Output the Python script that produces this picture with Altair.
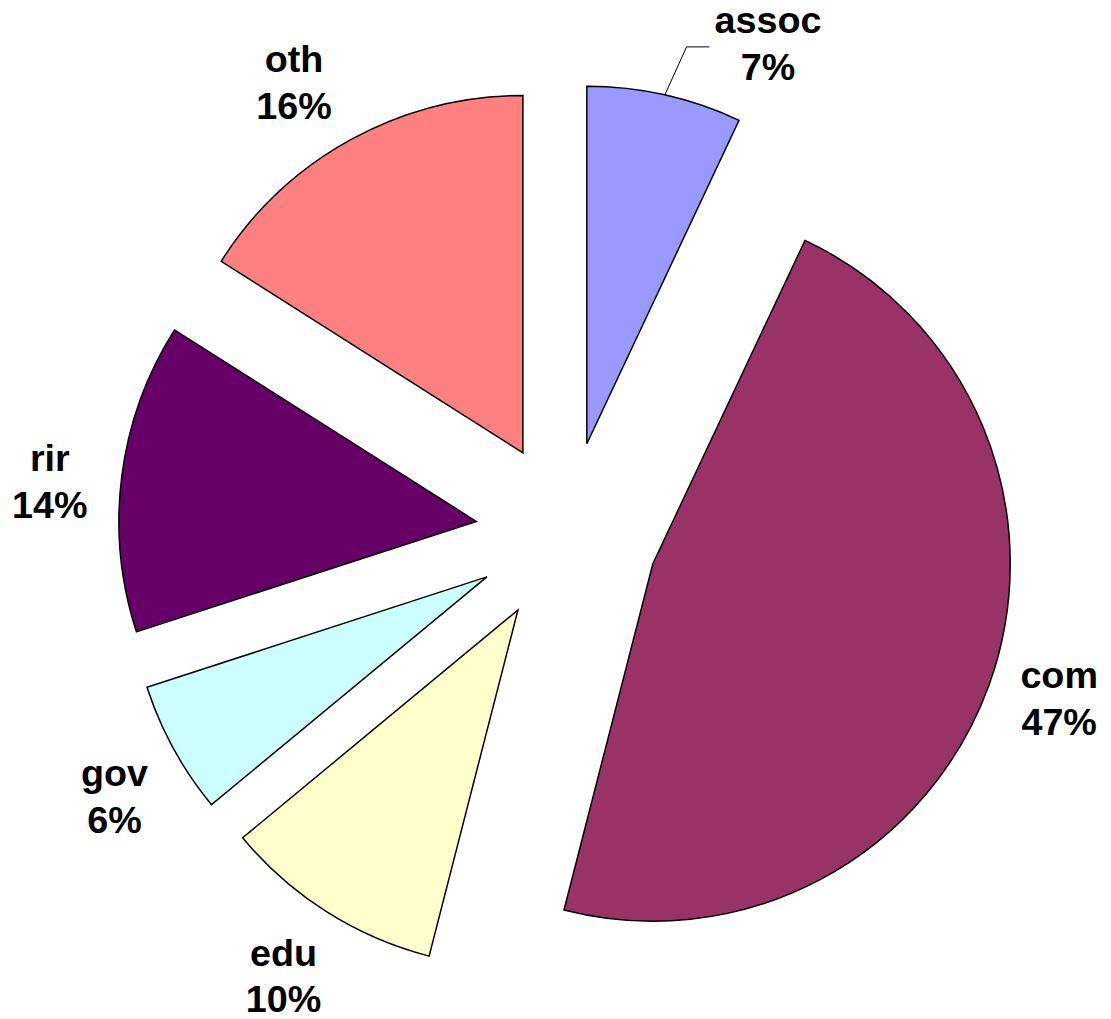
import altair as alt
import pandas as pd

# ---- data ----
categories = ["assoc", "com", "edu", "gov", "rir", "oth"]
values = [7, 47, 10, 6, 14, 16]
colors = ["#9999FF", "#993366", "#FFFFCC", "#CCFFFF", "#660066", "#FF8080"]

# ---- layout / style constants ----
W, H = 1103, 1011
CX, CY = 563, 525          # pie centre (chart px)
R = 360                    # slice radius
EXPLODE = 92               # explosion distance
LABEL_CX, LABEL_CY = 557, 530
LABEL_R = 527
LABEL_SHIFT_DEG = {"assoc": 10}   # label dragged away (gets a leader line)
LABEL_NUDGE_X = {"oth": -15, "assoc": 6, "com": 6, "rir": 8, "gov": 12, "edu": 3}
LABEL_NUDGE_Y = {"oth": 7, "assoc": -8, "com": -13, "rir": 13, "gov": 10}
FONT = "Liberation Sans"

df = pd.DataFrame({"cat": categories, "value": values, "idx": list(range(len(categories)))})
df["shift"] = df["cat"].map(LABEL_SHIFT_DEG).fillna(0)
df["nx"] = df["cat"].map(LABEL_NUDGE_X).fillna(0)
df["ny"] = df["cat"].map(LABEL_NUDGE_Y).fillna(0)

base = (
    alt.Chart(df)
    .transform_window(cum="sum(value)", sort=[alt.SortField("idx")], frame=[None, 0])
    .transform_joinaggregate(total="sum(value)")
    .transform_calculate(
        mid="2*PI*(datum.cum - datum.value/2)/datum.total",
        ex=f"{CX} + {EXPLODE}*sin(datum.mid)",
        ey=f"{CY} - {EXPLODE}*cos(datum.mid)",
        la="datum.mid + datum.shift*PI/180",
        lx=f"{LABEL_CX} + {LABEL_R}*sin(datum.la) + datum.nx",
        ly=f"{LABEL_CY} - {LABEL_R}*cos(datum.la) + datum.ny",
        pct="format(datum.value/datum.total, '.0%')",
    )
)

arcs = base.mark_arc(radius=R, stroke="black", strokeWidth=1.5).encode(
    theta=alt.Theta("value:Q", stack=True),
    order=alt.Order("idx:Q"),
    color=alt.Color("cat:N", scale=alt.Scale(domain=categories, range=colors), legend=None),
    x=alt.X("ex:Q", scale=None),
    y=alt.Y("ey:Q", scale=None),
)

txt = dict(font=FONT, fontWeight="bold", fontSize=38, align="center", baseline="alphabetic", color="black")
names = base.mark_text(dy=-14, **txt).encode(
    x=alt.X("lx:Q", scale=None), y=alt.Y("ly:Q", scale=None), text="cat:N"
)
pcts = base.mark_text(dy=33, **txt).encode(
    x=alt.X("lx:Q", scale=None), y=alt.Y("ly:Q", scale=None), text="pct:N"
)

lead = base.transform_filter("datum.shift != 0").transform_calculate(
    x0=f"datum.ex + {R}*sin(datum.mid)",
    y0=f"datum.ey - {R}*cos(datum.mid)",
    x1="datum.lx - 82",
    x2="datum.lx - 59",
)
lead1 = lead.mark_rule(color="black", strokeWidth=1).encode(
    x=alt.X("x0:Q", scale=None), y=alt.Y("y0:Q", scale=None),
    x2="x1:Q", y2="ly:Q",
)
lead2 = lead.mark_rule(color="black", strokeWidth=1).encode(
    x=alt.X("x1:Q", scale=None), y=alt.Y("ly:Q", scale=None),
    x2="x2:Q", y2="ly:Q",
)

chart = (
    alt.layer(arcs, lead1, lead2, names, pcts)
    .properties(width=W, height=H, autosize=alt.AutoSizeParams(type="none"), padding=0)
    .configure_view(stroke=None)
)

chart.save("out.html", embed_options={"renderer": "svg", "actions": False})
